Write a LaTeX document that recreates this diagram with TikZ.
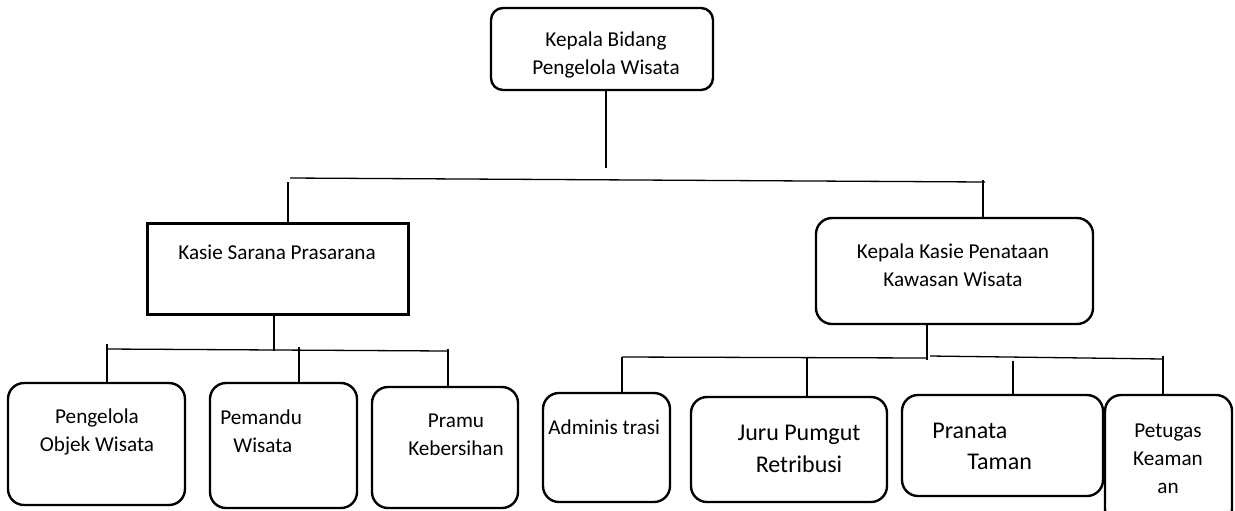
\documentclass[tikz,border=0pt]{standalone}
\usepackage{fontspec}
\setmainfont{Carlito}
\usetikzlibrary{positioning}
\tikzset{
  unitbox/.style={draw, rounded corners=8pt, line width=1.2pt},
  headbox/.style={draw, line width=1.5pt},
  lbl/.style={inner sep=0pt, font=\fontsize{10.6}{14}\selectfont, align=center},
  biglbl/.style={lbl, font=\fontsize{12}{15.75}\selectfont},
  treeln/.style={line width=0.65pt},
}

\begin{document}
\begin{tikzpicture}[x=0.5pt, y=-0.5pt]
    \useasboundingbox (0,0) rectangle (1235,510);
    % top
    \node[unitbox, rounded corners=6pt, minimum width=111pt, minimum height=41pt] (bidang) at (602,49) {};
    \node[lbl] (tbidang) at (606,55) {Kepala Bidang\\Pengelola Wisata};
    % second level
    \node[headbox, minimum width=130.5pt, minimum height=45.5pt] (sarana) at (277.5,268.5) {};
    \node[lbl] (tsarana) at (277,252) {Kasie Sarana Prasarana};
    \node[unitbox, minimum width=138.5pt, minimum height=53pt] (penataan) at (954.5,271) {};
    \node[lbl] (tpenataan) at (953,265) {Kepala Kasie Penataan\\Kawasan Wisata};
    % third level, left
    \node[unitbox, minimum width=88.5pt, minimum height=61pt] (objek) at (96.5,444) {};
    \node[lbl] (tobjek) at (97,431.5) {Pengelola\\Objek Wisata};
    \node[unitbox, minimum width=73.5pt, minimum height=62.5pt] (pemandu) at (283.5,445.5) {};
    \node[lbl, align=left, anchor=west] (tpemandu) at (220,431.5) {Pemandu\\\hspace*{6.5pt}Wisata};
    \node[unitbox, minimum width=73pt, minimum height=60.5pt] (pramu) at (445,447.5) {};
    \node[lbl] (tpramu) at (456,435) {Pramu\\Kebersihan};
    % third level, right
    \node[unitbox, minimum width=63.5pt, minimum height=54.5pt] (admin) at (606.5,447.5) {};
    \node[lbl, anchor=west] (tadmin) at (548,427) {Adminis trasi};
    \node[unitbox, minimum width=98pt, minimum height=52.5pt] (juru) at (789,449.5) {};
    \node[biglbl] (tjuru) at (799,449) {Juru Pumgut\\Retribusi};
    \node[unitbox, minimum width=100.5pt, minimum height=50.5pt] (pranata) at (1002.5,445.5) {};
    \node[biglbl, align=left, anchor=west] (tpranata) at (932,446.5) {Pranata\\\hspace*{17.5pt}Taman};
    \node[unitbox, minimum width=63.5pt, minimum height=65pt] (petugas) at (1168.5,460) {};
    \node[lbl] (tpetugas) at (1168,458.5) {Petugas\\Keaman\\an};

    % lines from the head
    \coordinate (topJ) at (606,168);
    \coordinate (busL) at (290,178);
    \coordinate (busR) at (985,182);
    \draw[treeln] (bidang.south -| topJ) -- (topJ);
    \draw[treeln] (busL) -- (busR);
    \coordinate (saranaTop) at (288,182);
    \coordinate (penataanTop) at (983,180);
    \draw[treeln] (saranaTop) -- (saranaTop |- sarana.north);
    \draw[treeln] (penataanTop) -- (penataanTop |- penataan.north);

    % lines under Kasie Sarana Prasarana
    \coordinate (saranaJ) at (274,351);
    \draw[treeln] (sarana.south -| saranaJ) -- (saranaJ);
    \coordinate (lbusL) at (107,349);
    \coordinate (lbusR) at (448,351);
    \draw[treeln] (lbusL) -- (lbusR);
    \foreach \n/\x/\y in {objek/107/344, pemandu/299/347, pramu/448/349}{
      \coordinate (\n Top) at (\x,\y);
      \draw[treeln] (\n Top) -- (\n Top |- \n.north);
    }

    % lines under Kepala Kasie Penataan
    \coordinate (penataanJ) at (927,360);
    \draw[treeln] (penataan.south -| penataanJ) -- (penataanJ);
    \coordinate (rbusL) at (622,357);
    \coordinate (rbusM) at (927,358);
    \coordinate (rbusN) at (930,356);
    \coordinate (rbusR) at (1163,359);
    \draw[treeln] (rbusL) -- (rbusM);
    \draw[treeln] (rbusN) -- (rbusR);
    \foreach \n/\x/\y in {admin/622/357, juru/807/357, pranata/1013/361, petugas/1163/356}{
      \coordinate (\n Top) at (\x,\y);
      \draw[treeln] (\n Top) -- (\n Top |- \n.north);
    }
\end{tikzpicture}
\end{document}
